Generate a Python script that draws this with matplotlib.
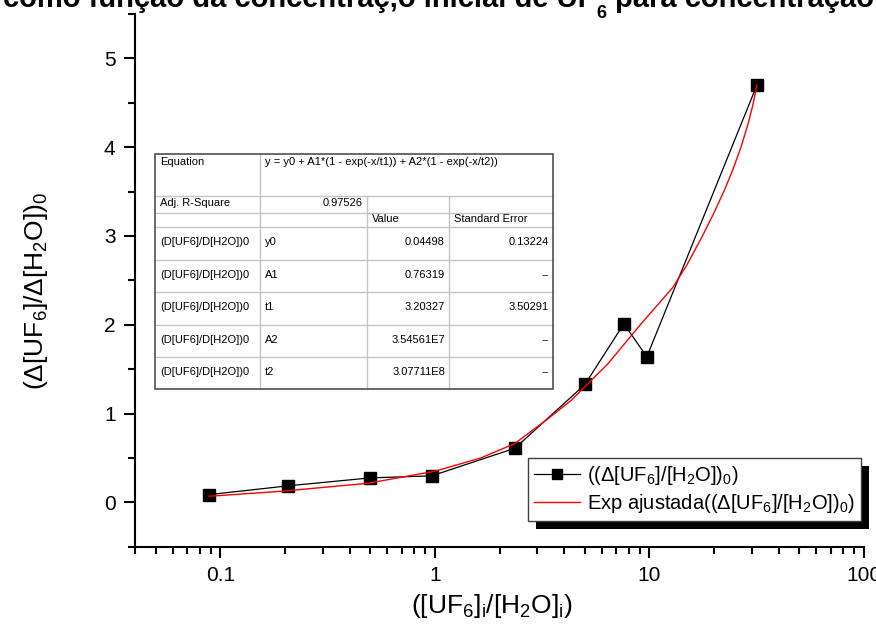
import matplotlib
matplotlib.use("Agg")
import matplotlib.pyplot as plt
from matplotlib.lines import Line2D
from matplotlib.patches import Rectangle
from matplotlib.ticker import MultipleLocator, LogLocator, NullFormatter, FixedLocator, FixedFormatter

plt.rcParams['font.family'] = ['Liberation Sans', 'DejaVu Sans']
plt.rcParams['mathtext.fontset'] = 'custom'
plt.rcParams['mathtext.rm'] = 'Liberation Sans'
plt.rcParams['mathtext.it'] = 'Liberation Sans:italic'
plt.rcParams['mathtext.bf'] = 'Liberation Sans:bold'

# Data
conc_ratio = [0.0886, 0.206, 0.499, 0.967, 2.36, 5.0, 7.6, 9.72, 31.7]
delta_ratio = [0.087, 0.185, 0.275, 0.298, 0.609, 1.327, 2.011, 1.639, 4.70]

# fitted curve (red)
fit_x = [0.0886, 0.192, 0.486, 1.0, 1.64, 2.35, 3.36, 4.31, 6.4, 9.14, 12.85,
         15.0, 17.4, 19.8, 22.4, 24.5, 26.7, 28.8, 30.3, 31.7]
fit_y = [0.068, 0.124, 0.214, 0.35, 0.50, 0.66, 0.94, 1.147, 1.56, 2.01, 2.42,
         2.68, 2.97, 3.24, 3.52, 3.75, 4.0, 4.26, 4.47, 4.70]

# fit table contents
equation_text = "y = y0 + A1*(1 - exp(-x/t1)) + A2*(1 - exp(-x/t2))"
adj_r2 = "0.97526"
row_label = "(D[UF6]/D[H2O])0"
param_names = ["y0", "A1", "t1", "A2", "t2"]
param_values = ["0.04498", "0.76319", "3.20327", "3.54561E7", "3.07711E8"]
param_errors = ["0.13224", "--", "3.50291", "--", "--"]

x_ticks = [0.1, 1, 10, 100]
x_ticklabels = ["0.1", "1", "10", "100"]

title_parts = ["como função da concentraç‚o inicial de UF", "6", "para concentração"]

W, H = 876, 635
fig = plt.figure(figsize=(W / 100, H / 100), dpi=100)
ax = fig.add_axes([135 / W, 1 - 546.7 / H, (864 - 135) / W, (546.7 - 14) / H])

ax.plot(conc_ratio, delta_ratio, color='black', lw=0.9, marker='s', ms=8,
        mfc='black', mec='black', label=r"((Δ[UF$_6$]/[H$_2$O])$_0$)")
ax.plot(fit_x, fit_y, color='red', lw=1.0,
        label=r"Exp ajustada((Δ[UF$_6$]/[H$_2$O])$_0$)")

ax.set_xscale('log')
ax.set_xlim(0.04, 100)
ax.set_ylim(-0.5, 5.5)

ax.xaxis.set_major_locator(FixedLocator(x_ticks))
ax.xaxis.set_major_formatter(FixedFormatter(x_ticklabels))
ax.xaxis.set_minor_locator(LogLocator(base=10, subs=range(2, 10), numticks=20))
ax.xaxis.set_minor_formatter(NullFormatter())
ax.yaxis.set_major_locator(MultipleLocator(1))
ax.yaxis.set_minor_locator(MultipleLocator(0.5))

for s in ['top', 'right']:
    ax.spines[s].set_visible(False)
for s in ['left', 'bottom']:
    ax.spines[s].set_linewidth(1.5)

ax.tick_params(which='major', direction='out', length=8, width=1.5, labelsize=15, pad=6)
ax.tick_params(which='minor', direction='out', length=5, width=1.5)

ax.set_xlabel(r"([UF$_6$]$_\mathrm{i}$/[H$_2$O]$_\mathrm{i}$)", fontsize=19)
ax.xaxis.set_label_coords(0.49, -0.085)
ax.set_ylabel(r"(Δ[UF$_6$]/Δ[H$_2$O])$_0$", fontsize=19)
ax.yaxis.set_label_coords(-0.117, 0.48)


def fx(px):
    return px / W


def fy(py):
    return 1 - py / H


# title, cut off at the top of the image
fig.text(fx(3), fy(7), title_parts[0], fontsize=21, fontweight='bold', ha='left', va='baseline')
fig.text(fx(596), fy(18), title_parts[1], fontsize=13, fontweight='bold', ha='left', va='baseline')
fig.text(fx(615), fy(7), title_parts[2], fontsize=21, fontweight='bold', ha='left', va='baseline')

# fit results table
col_edges = [155, 260, 367, 449, 553]
row_edges = [154, 196, 213, 227, 259.5, 292, 324.5, 357, 388.5]
tfs = 8

fig.add_artist(Rectangle((fx(col_edges[0]), fy(row_edges[-1])),
                         fx(col_edges[-1]) - fx(col_edges[0]), fy(row_edges[0]) - fy(row_edges[-1]),
                         transform=fig.transFigure, facecolor='white', edgecolor='none', zorder=3))
for ry in row_edges[1:-1]:
    fig.add_artist(Line2D([fx(col_edges[0]), fx(col_edges[-1])], [fy(ry), fy(ry)],
                          transform=fig.transFigure, color='#c4c4c4', lw=1.0, zorder=3.1))
fig.add_artist(Line2D([fx(col_edges[1])] * 2, [fy(row_edges[0]), fy(row_edges[-1])],
                      transform=fig.transFigure, color='#c4c4c4', lw=1.0, zorder=3.1))
for cx in col_edges[2:4]:
    fig.add_artist(Line2D([fx(cx)] * 2, [fy(row_edges[1]), fy(row_edges[-1])],
                          transform=fig.transFigure, color='#c4c4c4', lw=1.0, zorder=3.1))
fig.add_artist(Rectangle((fx(col_edges[0]), fy(row_edges[-1])),
                         fx(col_edges[-1]) - fx(col_edges[0]), fy(row_edges[0]) - fy(row_edges[-1]),
                         transform=fig.transFigure, facecolor='none', edgecolor='#505050', lw=1.2, zorder=3.2))


def cell_text(txt, col, row, align='left', top=False):
    if align == 'left':
        x = col_edges[col] + 5
    else:
        x = col_edges[col + 1] - 4
    if top:
        y, va = row_edges[row] + 3, 'top'
    else:
        y, va = (row_edges[row] + row_edges[row + 1]) / 2 - 1, 'center'
    fig.text(fx(x), fy(y), txt, fontsize=tfs, ha=align, va=va, zorder=3.3)


cell_text("Equation", 0, 0, top=True)
cell_text(equation_text, 1, 0, top=True)
cell_text("Adj. R-Square", 0, 1)
cell_text(adj_r2, 1, 1, align='right')
cell_text("Value", 2, 2)
cell_text("Standard Error", 3, 2)
for i in range(len(param_names)):
    cell_text(row_label, 0, 3 + i)
    cell_text(param_names[i], 1, 3 + i)
    cell_text(param_values[i], 2, 3 + i, align='right')
    cell_text(param_errors[i], 3, 3 + i, align='right')

# legend with a black drop shadow
handles, labels = ax.get_legend_handles_labels()
leg = fig.legend(handles, labels, loc='upper left', bbox_to_anchor=(fx(528), fy(458)),
                 bbox_transform=fig.transFigure, fontsize=14.5, frameon=True, fancybox=False,
                 framealpha=1, facecolor='white', edgecolor='#404040', borderaxespad=0,
                 handlelength=2.3, handletextpad=0.35, borderpad=0.3, labelspacing=0.25,
                 markerscale=0.85)
leg.get_frame().set_linewidth(1.0)
leg.set_zorder(5)
fig.canvas.draw()
bb = leg.get_window_extent().transformed(fig.transFigure.inverted())
fig.add_artist(Rectangle((bb.x0 + 8 / W, bb.y0 - 8 / H), bb.width, bb.height,
                         transform=fig.transFigure, facecolor='black', edgecolor='none', zorder=4.9))

fig.savefig("out.png", dpi=100)
